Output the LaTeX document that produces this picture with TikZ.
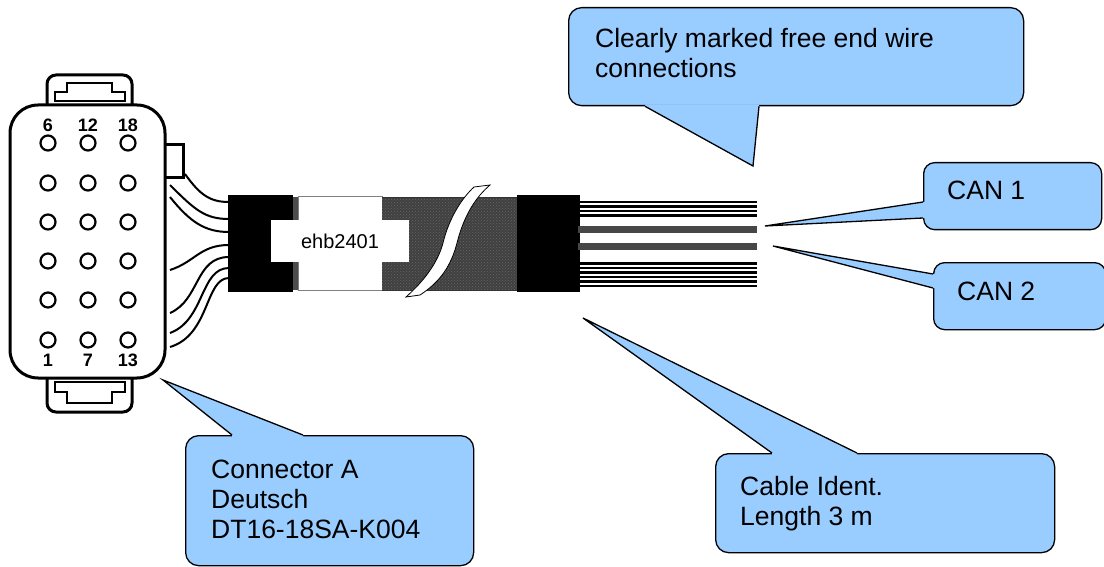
\documentclass[tikz,border=0pt]{standalone}
\usepackage{fontspec}
\setmainfont{Liberation Sans}
\usetikzlibrary{calc,patterns}
\definecolor{callblue}{HTML}{99CCFF}
\definecolor{jacket}{HTML}{404040}
\definecolor{canwire}{HTML}{474747}
\tikzset{
  callbox/.style={draw=black, line width=1.3pt, fill=callblue, rounded corners=13pt, inner sep=0pt, anchor=north west},
  calltext/.style={font=\fontsize{26.5}{30}\selectfont, align=left, anchor=base west, inner sep=0pt},
  pinnum/.style={font=\bfseries\fontsize{18}{18}\selectfont, inner sep=0pt},
  ptr/.style={draw=black, line width=1.3pt, line join=miter},
  lead/.style={line width=2pt},
  housing/.style={line width=3pt},
}
\newcommand\pointer[4]{%
  \fill[callblue] ($#1+#4$) -- #1 -- #2 -- #3 -- ($#3+#4$) -- cycle;
  \draw[ptr] #1 -- #2 -- #3;}
\begin{document}
\begin{tikzpicture}[x=1pt, y=-1pt]
  \useasboundingbox[fill=white] (0,0) rectangle (1104,567);
  % latches and housing
  \draw[housing, rounded corners=9pt] (47,106) -- (47,75) -- (132,75) -- (132,106);
  \draw[line width=1.5pt] (55,101) -- (55,92) -- (67,92) -- (67,83) -- (112,83) -- (112,92) -- (125,92) -- (125,101) -- cycle;
  \draw[housing, rounded corners=9pt] (47,377) -- (47,412) -- (132,412) -- (132,377);
  \draw[line width=1.5pt] (55,382) -- (55,392) -- (67,392) -- (67,403) -- (112,403) -- (112,392) -- (125,392) -- (125,382) -- cycle;
  \draw[housing, rounded corners=28pt] (10,105) rectangle (165,378);
  \draw[housing] (165,145) -- (183,145) -- (183,178) -- (165,178);
  \foreach \col in {48,88,128}
    \foreach \row in {143,183,222,261,300,340}
      \draw[line width=2.2pt] (\col,\row) circle (7.5);
  \foreach \col/\hi/\lo in {48/6/1, 88/12/7, 128/18/13} {
    \node[pinnum] (pin\hi) at (\col,125) {\hi};
    \node[pinnum] (pin\lo) at (\col,360) {\lo};
  }
  % leads into the boot
  \draw[lead] (185,174) .. controls (200,195) and (210,202) .. (229,202);
  \draw[lead] (170,185) .. controls (195,210) and (205,219) .. (229,219);
  \draw[lead] (170,197) .. controls (190,222) and (205,232) .. (229,232);
  \draw[lead] (170,270) .. controls (195,262) and (200,245) .. (229,245);
  \draw[lead] (170,313) .. controls (200,300) and (195,257) .. (229,257);
  \draw[lead] (170,333) .. controls (205,320) and (200,268) .. (229,268);
  \draw[lead] (170,347) .. controls (210,335) and (205,278) .. (229,278);
  % cable
  \fill[black] (228,195) rectangle (293,292);
  \fill[gray!60!black] (293,197) rectangle (298,290);
  \draw[gray, fill=white, line width=1pt] (298,197) rectangle (382,290);
  \fill[jacket] (382,198) rectangle (517,290);
  \fill[pattern=crosshatch dots, pattern color=gray!80!black] (382,198) rectangle (517,290);
  \draw[black!80, line width=1pt] (382,198) -- (517,198) (382,290) -- (517,290);
  \draw[fill=white, line width=0.8pt] (406,297) .. controls (425,280) and (438,262) .. (443,243)
    .. controls (449,218) and (462,198) .. (474,187) -- (490,185)
    .. controls (476,197) and (464,215) .. (457,243)
    .. controls (451,266) and (440,282) .. (420,295) -- cycle;
  \fill[black] (517,195) rectangle (580,292);
  \node[fill=white, minimum width=138pt, minimum height=42pt, inner sep=0pt,
    font=\fontsize{20}{20}\selectfont] (tag) at (340,241) {ehb2401};
  % free ends
  \foreach \y in {202,206.5,211,215.3,263.3,267.8,272.3,277,281.6,286}
    \draw[line width=2.6pt] (580,\y) -- (757,\y);
  \fill[canwire] (578,226) rectangle (757,233);
  \fill[canwire] (578,243) rectangle (757,250);
  % callouts
  \node[callbox, minimum width=455pt, minimum height=98pt] (clear) at (568,7) {};
  \coordinate (clearA) at ($(clear.south west)+(77,0)$);
  \coordinate (clearB) at ($(clear.south west)+(191,0)$);
  \coordinate (clearTip) at (753,166);
  \pointer{(clearA)}{(clearTip)}{(clearB)}{(0,-2)}
  \node[calltext] (clearTxt) at (595,78) {Clearly marked free end wire\\connections};

  \node[callbox, minimum width=178pt, minimum height=67pt, rounded corners=11pt] (can1) at (923,162) {};
  \coordinate (can1A) at ($(can1.north west)+(0,40)$);
  \coordinate (can1B) at ($(can1.north west)+(0,56)$);
  \coordinate (can1Tip) at (765,226);
  \pointer{(can1A)}{(can1Tip)}{(can1B)}{(2,0)}
  \node[calltext] (can1Txt) at (947,200) {CAN 1};

  \node[callbox, minimum width=172pt, minimum height=67pt, rounded corners=11pt] (can2) at (933,262) {};
  \coordinate (can2A) at ($(can2.north west)+(0,12)$);
  \coordinate (can2B) at ($(can2.north west)+(0,26)$);
  \coordinate (can2Tip) at (773,246);
  \pointer{(can2A)}{(can2Tip)}{(can2B)}{(2,0)}
  \node[calltext] (can2Txt) at (957,300) {CAN 2};

  \node[callbox, minimum width=339pt, minimum height=99pt] (ident) at (715,453) {};
  \coordinate (identA) at ($(ident.north west)+(57,0)$);
  \coordinate (identB) at ($(ident.north west)+(142,0)$);
  \coordinate (identTip) at (583,318);
  \pointer{(identA)}{(identTip)}{(identB)}{(0,2)}
  \node[calltext] (identTxt) at (740,525) {Cable Ident.\\Length 3 m};

  \node[callbox, minimum width=288pt, minimum height=130pt] (conn) at (185,435) {};
  \coordinate (connA) at ($(conn.north west)+(47,0)$);
  \coordinate (connB) at ($(conn.north west)+(118,0)$);
  \coordinate (connTip) at (163,380);
  \pointer{(connA)}{(connTip)}{(connB)}{(0,2)}
  \node[calltext] (connTxt) at (211,538) {Connector A\\Deutsch\\DT16-18SA-K004};
\end{tikzpicture}
\end{document}
